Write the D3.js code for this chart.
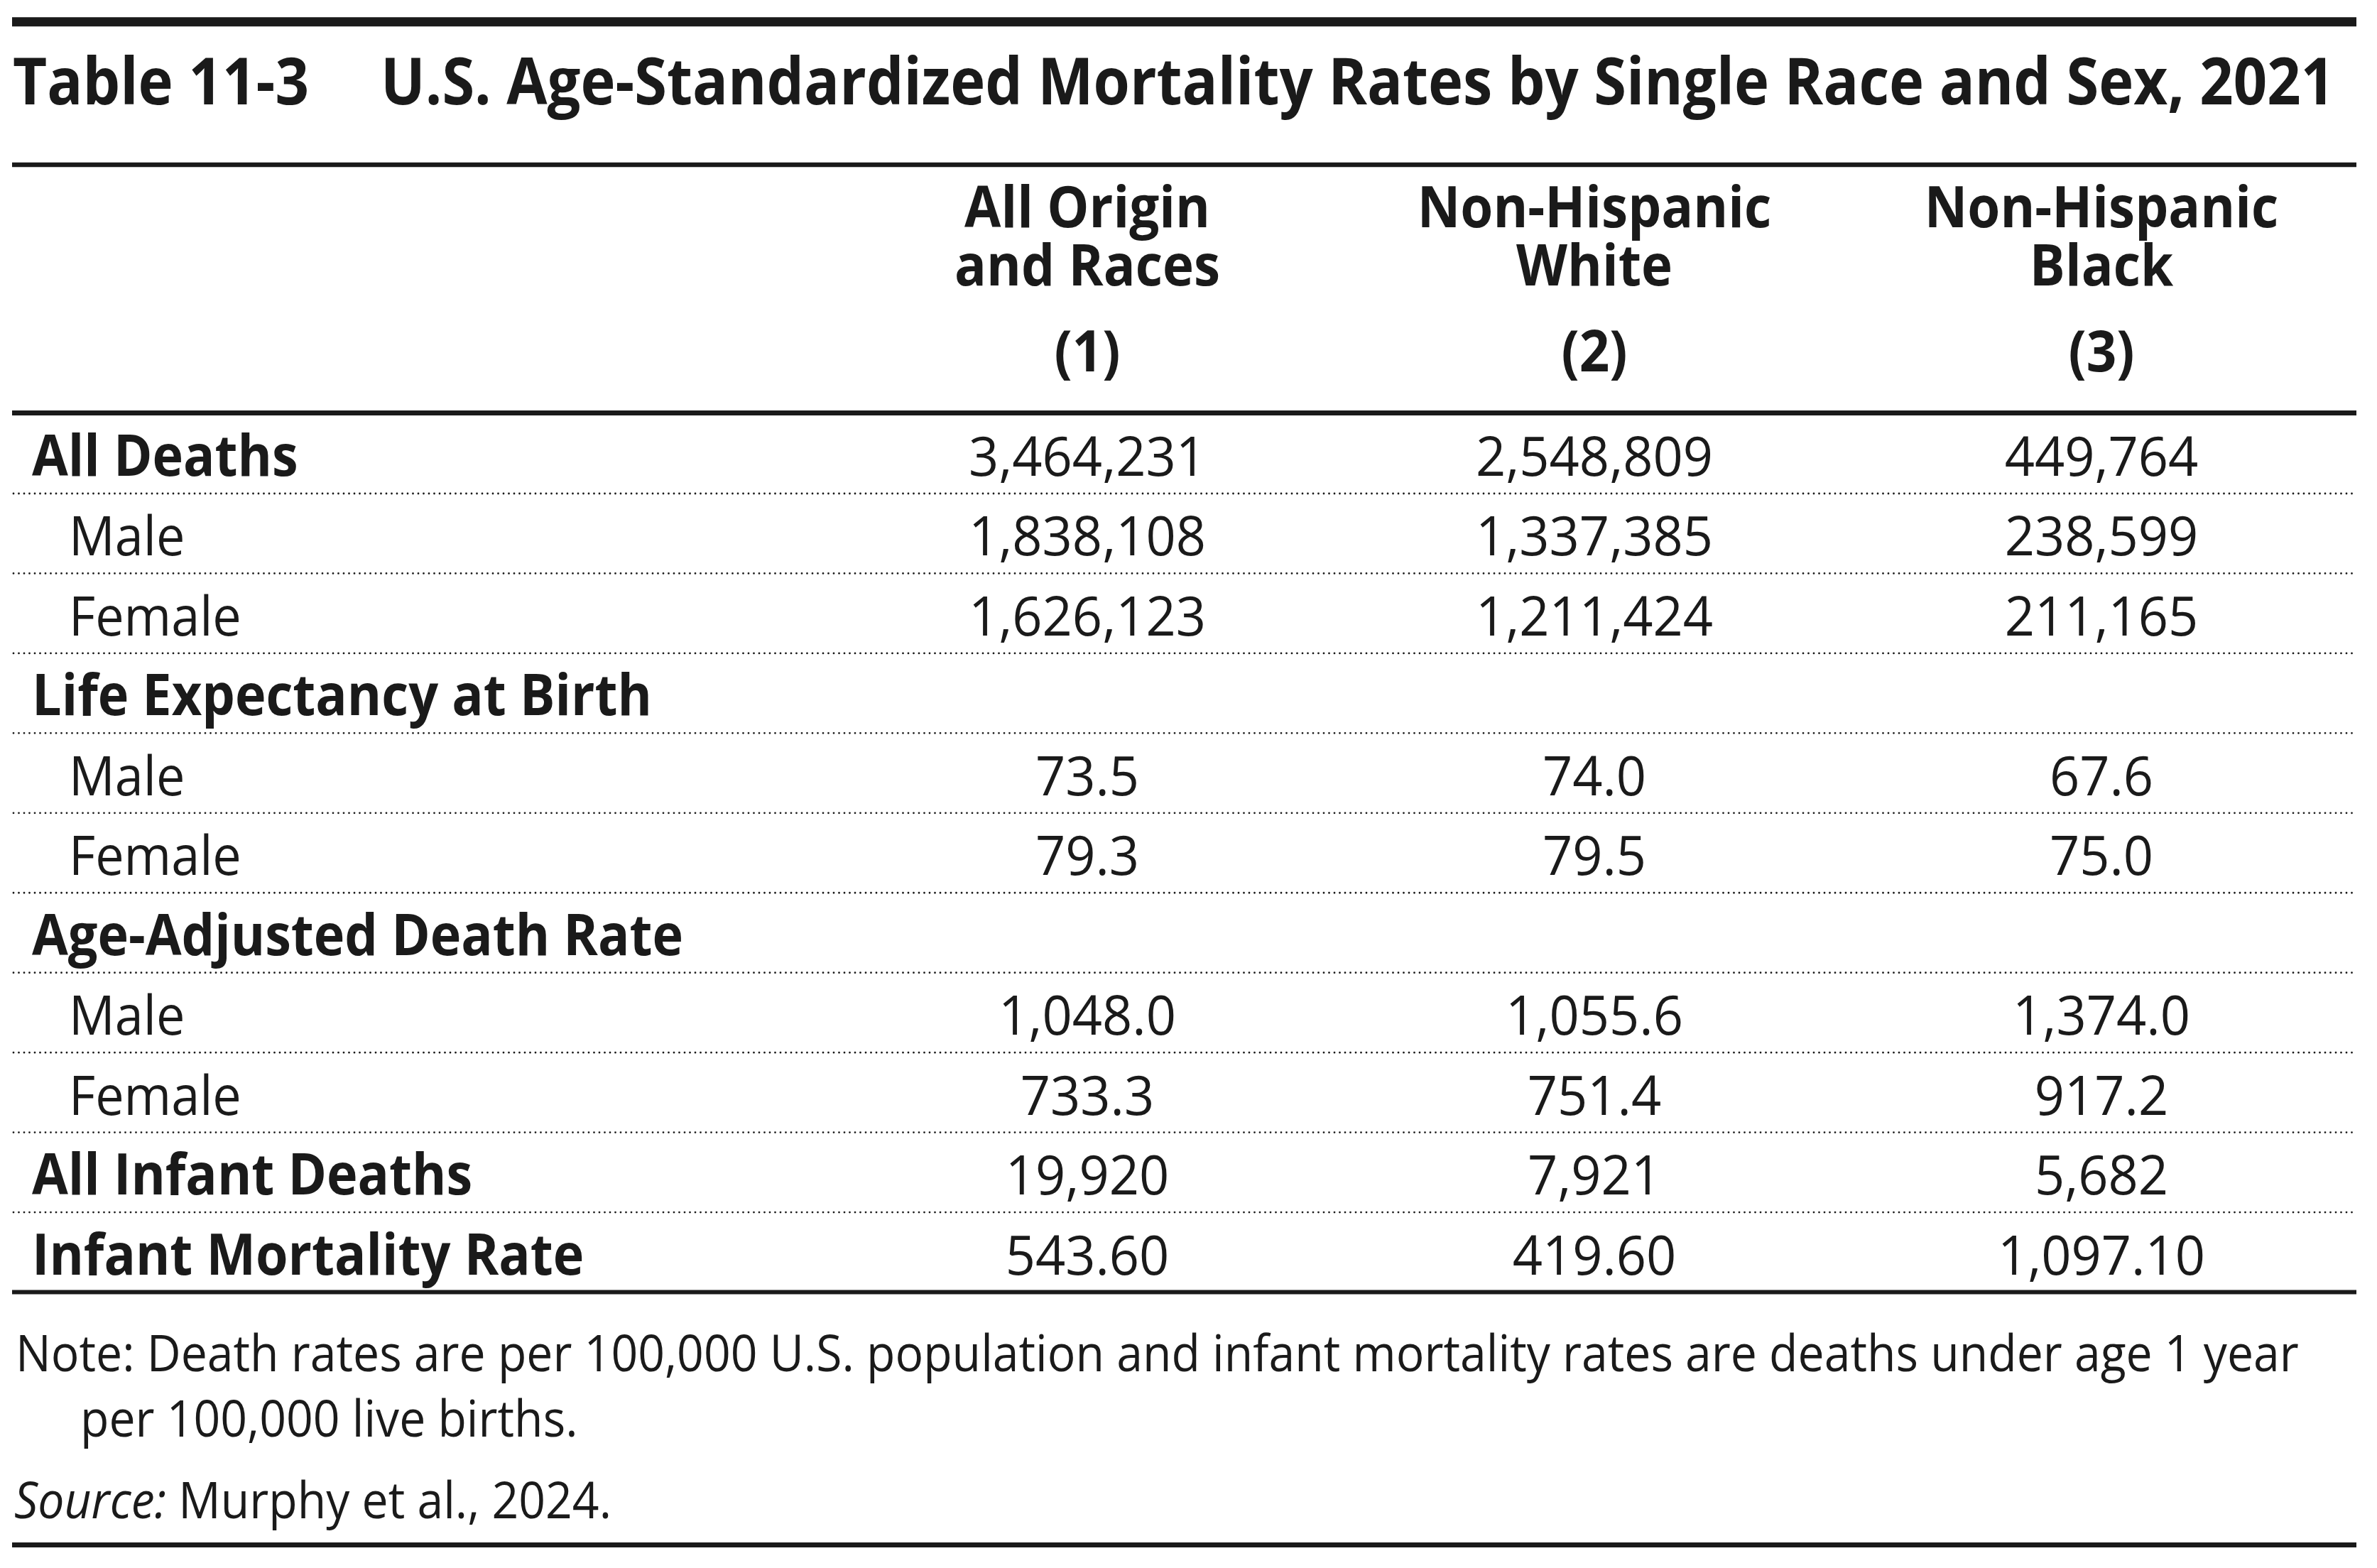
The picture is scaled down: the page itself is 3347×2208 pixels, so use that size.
<!DOCTYPE html>
<html>
<head>
<meta charset="utf-8">
<script src="https://cdn.jsdelivr.net/npm/d3@7/dist/d3.min.js"></script>
<style>
  html, body { margin: 0; padding: 0; background: #ffffff; }
  svg { display: block; }
  text { font-family: "Open Sans", "Noto Sans", sans-serif; fill: #1a1a1a; }
</style>
</head>
<body>
<script>
// ---------- data ----------
const tableNumber = "Table 11-3";
const tableTitle = "U.S. Age-Standardized Mortality Rates by Single Race and Sex, 2021";
const columnHeaders = [["All Origin", "and Races"], ["Non-Hispanic", "White"], ["Non-Hispanic", "Black"]];
const columnNumbers = ["(1)", "(2)", "(3)"];
const rowLabels = ["All Deaths", "Male", "Female", "Life Expectancy at Birth", "Male", "Female",
                   "Age-Adjusted Death Rate", "Male", "Female", "All Infant Deaths", "Infant Mortality Rate"];
const rowIsHeading = [true, false, false, true, false, false, true, false, false, true, true];
const rowFormats = [",d", ",d", ",d", null, ".1f", ".1f", null, ",.1f", ",.1f", ",d", ",.2f"];
const allOriginAndRaces = [3464231, 1838108, 1626123, null, 73.5, 79.3, null, 1048.0, 733.3, 19920, 543.60];
const nonHispanicWhite  = [2548809, 1337385, 1211424, null, 74.0, 79.5, null, 1055.6, 751.4, 7921, 419.60];
const nonHispanicBlack  = [449764, 238599, 211165, null, 67.6, 75.0, null, 1374.0, 917.2, 5682, 1097.10];
const seriesValues = [allOriginAndRaces, nonHispanicWhite, nonHispanicBlack];
const noteLines = ["Note: Death rates are per 100,000 U.S. population and infant mortality rates are deaths under age 1 year",
                   "per 100,000 live births."];
const sourceLabel = "Source:";
const sourceText = " Murphy et al., 2024.";

// ---------- layout ----------
const W = 3347, H = 2208;
const ink = "#1a1a1a";
const ruleX0 = 17, ruleX1 = 3318;
const svg = d3.select("body").append("svg").attr("width", W).attr("height", H)
  .attr("viewBox", `0 0 ${W} ${H}`);
svg.append("rect").attr("width", W).attr("height", H).attr("fill", "#fff");

const x = d3.scalePoint().domain(columnNumbers).range([1531, 2959]);
const y = d3.scaleLinear().domain([0, rowLabels.length - 1]).range([670, 1794.5]);

function label(str, px, py, opts) {
  return svg.append("text")
    .attr("transform", `translate(${px},${py}) scale(${opts.sx},1)`)
    .attr("text-anchor", opts.anchor || "start")
    .attr("font-size", opts.size)
    .attr("font-weight", opts.weight || 400)
    .attr("font-style", opts.style || "normal")
    .text(str);
}
function rule(py, width) {
  svg.append("line").attr("x1", ruleX0).attr("x2", ruleX1).attr("y1", py).attr("y2", py)
    .attr("stroke", ink).attr("stroke-width", width);
}
function dotted(py) {
  svg.append("line").attr("x1", 19).attr("x2", ruleX1).attr("y1", py).attr("y2", py)
    .attr("stroke", ink).attr("stroke-width", 2.8).attr("stroke-linecap", "round")
    .attr("stroke-dasharray", "0 7.5");
}

// rules
rule(30.8, 13);
rule(232, 6.6);
rule(581.5, 7);
rule(1819.5, 6);
rule(2175.5, 7);

// title
label(tableNumber, 18, 146.5, { size: 91, weight: 700, sx: 0.915 });
label(tableTitle, 536, 146.5, { size: 91, weight: 700, sx: 0.912 });

// column headers (two-line header as one text element with tspans)
columnHeaders.forEach((lines, i) => {
  const cx = x(columnNumbers[i]);
  const t = label("", cx, 320, { size: 81, weight: 700, anchor: "middle", sx: 0.92 });
  t.selectAll("tspan").data(lines).join("tspan")
    .attr("x", 0).attr("dy", (d, k) => k === 0 ? 0 : 82).text(d => d);
  label(columnNumbers[i], cx, 523, { size: 81, weight: 700, anchor: "middle", sx: 0.92 });
});

// rows
rowLabels.forEach((name, r) => {
  const py = y(r);
  if (rowIsHeading[r]) label(name, 45, py, { size: 81, weight: 700, sx: 0.91 });
  else label(name, 97, py, { size: 77, weight: 400, sx: 0.935 });
  seriesValues.forEach((vals, c) => {
    const v = vals[r];
    if (v == null) return;
    label(d3.format(rowFormats[r])(v), x(columnNumbers[c]), py, { size: 77, anchor: "middle", sx: 0.96 });
  });
  if (r < rowLabels.length - 1) dotted(py + 25);
});

// notes
label(noteLines[0], 22, 1931, { size: 72, sx: 0.918 });
label(noteLines[1], 113, 2023, { size: 72, sx: 0.918 });
const src = label("", 20, 2138, { size: 72, sx: 0.918 });
src.append("tspan").attr("font-style", "italic").text(sourceLabel);
src.append("tspan").text(sourceText);
</script>
</body>
</html>
